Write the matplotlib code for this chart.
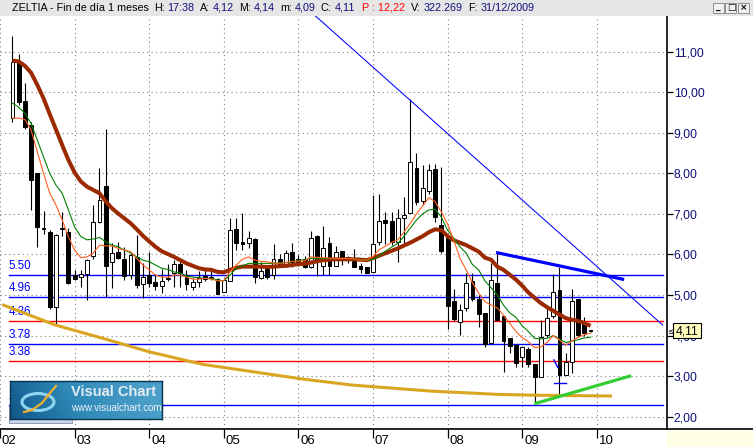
import numpy as np
import matplotlib
matplotlib.use("Agg")
import matplotlib.pyplot as plt
from matplotlib.patches import Rectangle, Ellipse
from matplotlib.transforms import Affine2D
from matplotlib.colors import LinearSegmentedColormap

plt.rcParams['font.family'] = ['Liberation Sans', 'DejaVu Sans']

# monthly candles, Mar 2002 (month 2) .. Dec 2009 (month 95)
months = np.arange(2, 96)

opens = [9.36, 10.74, 9.78, 9.19, 8.00, 6.66, 6.56, 4.71, 6.63, 6.56,
         5.49, 5.45, 5.51, 5.96, 6.81, 7.68, 5.81, 6.07, 5.88, 5.49, 5.94, 5.26,
         5.49, 5.31, 5.23, 5.43, 5.54, 5.76, 5.49, 5.20, 5.33, 5.47, 5.44, 5.39,
         5.08, 5.35, 6.62, 6.31, 6.27, 6.37, 5.43, 5.65, 5.49, 5.88, 5.74, 6.05,
         5.88, 5.88, 5.70, 6.46, 5.72, 6.27, 5.72, 6.08, 5.94, 5.84, 5.72, 5.70,
         5.57, 6.31, 6.85, 6.83, 6.31, 6.89, 7.03, 8.12, 7.33, 7.57, 8.10, 6.73,
         6.40, 4.85, 4.33, 4.67, 5.35, 4.90, 4.55, 3.81, 5.30, 4.48, 3.93, 3.77,
         3.46, 3.67, 3.30, 2.99, 4.01, 4.48, 5.12, 3.03, 3.36, 4.90, 4.30, 4.12]
highs = [11.39, 10.94, 10.22, 9.26, 8.00, 7.06, 6.60, 6.50, 7.05, 6.64,
         5.62, 5.62, 5.90, 7.22, 8.12, 9.09, 6.27, 6.31, 6.19, 6.07, 6.48, 5.78,
         6.07, 5.53, 5.63, 5.76, 5.86, 5.86, 5.61, 5.41, 5.59, 5.63, 5.59, 5.41,
         5.41, 6.89, 6.89, 7.03, 6.58, 6.40, 5.82, 5.72, 6.25, 6.00, 6.11, 6.27,
         5.98, 5.95, 6.58, 6.48, 6.70, 6.43, 6.20, 6.08, 5.97, 6.13, 5.80, 5.70,
         7.47, 7.48, 7.05, 7.05, 7.11, 7.42, 9.83, 8.49, 8.20, 8.23, 8.23, 8.16,
         6.45, 5.14, 4.77, 5.55, 5.55, 5.00, 4.55, 5.78, 6.04, 4.48, 3.93, 3.80,
         3.75, 3.72, 3.30, 4.38, 4.71, 5.53, 5.68, 3.56, 5.14, 4.90, 4.45, 4.14]
lows = [9.27, 9.68, 9.09, 7.10, 6.19, 6.50, 4.66, 4.26, 6.45, 5.27,
        5.37, 5.20, 4.88, 5.88, 6.78, 4.96, 5.17, 5.88, 5.37, 5.39, 5.17, 4.92,
        5.20, 5.13, 5.04, 5.35, 5.20, 5.20, 5.12, 5.12, 5.20, 5.35, 5.37, 5.02,
        5.08, 5.35, 6.11, 6.11, 6.16, 5.29, 5.40, 5.40, 5.40, 5.72, 5.70, 5.70,
        5.72, 5.67, 5.67, 5.47, 5.49, 5.49, 5.72, 5.74, 5.80, 5.70, 5.55, 5.55,
        5.57, 6.23, 6.25, 6.23, 5.82, 6.27, 7.03, 7.22, 7.22, 7.50, 6.81, 6.03,
        4.15, 4.36, 4.01, 4.60, 4.85, 4.20, 3.71, 3.81, 4.38, 3.11, 3.56, 3.23,
        3.23, 3.23, 2.33, 2.99, 3.97, 4.43, 2.51, 3.03, 3.07, 3.97, 4.00, 4.09]
closes = [10.75, 9.77, 9.13, 7.84, 6.68, 6.62, 4.71, 6.48, 6.66, 5.29,
          5.39, 5.51, 5.86, 6.81, 7.34, 5.72, 6.04, 5.92, 5.47, 5.98, 5.25, 5.45,
          5.29, 5.23, 5.35, 5.39, 5.76, 5.54, 5.26, 5.31, 5.41, 5.39, 5.42, 5.02,
          5.37, 6.60, 6.29, 6.25, 6.40, 5.45, 5.58, 5.45, 5.90, 5.74, 6.03, 5.82,
          5.78, 5.70, 6.40, 5.85, 6.15, 5.72, 6.07, 5.94, 5.86, 5.70, 5.63, 5.55,
          6.25, 6.83, 6.77, 6.31, 6.89, 6.97, 8.27, 7.30, 7.63, 8.08, 6.92, 6.09,
          4.74, 4.41, 4.63, 5.30, 4.89, 4.52, 3.79, 5.37, 4.38, 3.87, 3.74, 3.33,
          3.71, 3.30, 2.99, 3.97, 4.43, 5.07, 3.03, 3.34, 4.85, 4.01, 4.07, 4.11]

# moving averages
ma_brown = [10.78, 10.76, 10.65, 10.48, 10.18, 9.85, 9.46, 9.08, 8.70, 8.33,
            8.02, 7.80, 7.67, 7.59, 7.51, 7.31, 7.14, 7.01, 6.89, 6.77, 6.62, 6.46,
            6.32, 6.19, 6.08, 6.01, 5.94, 5.86, 5.78, 5.72, 5.66, 5.63, 5.62, 5.57,
            5.56, 5.62, 5.67, 5.70, 5.70, 5.70, 5.70, 5.69, 5.70, 5.71, 5.72, 5.74,
            5.76, 5.77, 5.80, 5.83, 5.86, 5.87, 5.88, 5.88, 5.88, 5.88, 5.87, 5.86,
            5.91, 5.97, 6.03, 6.09, 6.15, 6.22, 6.29, 6.37, 6.45, 6.55, 6.62, 6.60,
            6.45, 6.35, 6.29, 6.23, 6.15, 6.07, 5.92, 5.87, 5.70, 5.62, 5.50, 5.38,
            5.23, 5.06, 4.93, 4.80, 4.70, 4.61, 4.52, 4.43, 4.39, 4.36, 4.31, 4.24]
ma_green = [9.73, 9.63, 9.48, 9.23, 8.82, 8.41, 8.00, 7.71, 7.51, 7.10,
            6.68, 6.44, 6.36, 6.38, 6.42, 6.31, 6.23, 6.19, 6.11, 6.04, 5.94, 5.86,
            5.82, 5.74, 5.66, 5.63, 5.57, 5.54, 5.47, 5.44, 5.43, 5.41, 5.41, 5.37,
            5.35, 5.49, 5.66, 5.72, 5.78, 5.78, 5.78, 5.78, 5.78, 5.79, 5.80, 5.82,
            5.85, 5.87, 5.90, 5.90, 5.90, 5.90, 5.90, 5.90, 5.90, 5.89, 5.87, 5.86,
            5.88, 5.96, 6.08, 6.18, 6.27, 6.45, 6.65, 6.85, 7.00, 7.10, 7.11, 6.92,
            6.60, 6.40, 6.19, 6.03, 5.75, 5.62, 5.35, 5.18, 5.00, 4.75, 4.56, 4.45,
            4.24, 4.10, 3.93, 3.92, 3.93, 4.00, 3.91, 3.83, 3.86, 3.90, 3.94, 3.96]
ma_orange = [9.36, 9.36, 9.33, 9.07, 8.53, 8.00, 7.51, 7.22, 6.85, 6.44,
             6.11, 5.92, 5.94, 6.03, 6.23, 6.21, 6.21, 6.15, 6.11, 6.07, 5.90, 5.74,
             5.62, 5.49, 5.44, 5.44, 5.49, 5.49, 5.44, 5.39, 5.39, 5.41, 5.39, 5.35,
             5.35, 5.57, 5.74, 5.88, 5.94, 5.86, 5.83, 5.82, 5.79, 5.78, 5.80, 5.83,
             5.84, 5.84, 5.94, 5.93, 5.92, 5.91, 5.90, 5.90, 5.90, 5.89, 5.86, 5.86,
             5.95, 6.12, 6.20, 6.30, 6.36, 6.55, 6.77, 7.00, 7.20, 7.40, 7.30, 7.05,
             6.75, 6.35, 5.90, 5.62, 5.30, 5.05, 4.84, 4.75, 4.68, 4.50, 4.30, 4.10,
             3.95, 3.85, 3.70, 3.72, 3.83, 4.00, 3.89, 3.76, 3.87, 3.96, 4.02, 4.06]

# horizontal levels drawn on the chart
level_values = [5.50, 4.96, 4.36, 3.78, 3.38, 2.28]
level_colors = ['#0000ff', '#0000ff', '#ff0000', '#0000ff', '#ff0000', '#0000ff']

# drawn trend lines (month, price)
diag_x, diag_y = [50.6, 106.6], [11.90, 4.26]
resist_x, resist_y = [80.05, 100.15], [6.04, 5.39]
support_x, support_y = [86.2, 101.3], [2.33, 3.00]
gold_x = [0.58, 8.9, 16.6, 24.0, 32.6, 40.6, 48.6, 56.6, 69.4, 80.1, 85.9, 98.2]
gold_y = [4.75, 4.26, 3.93, 3.60, 3.29, 3.11, 2.93, 2.78, 2.63, 2.55, 2.53, 2.51]

year_months = [0, 12, 24, 36, 48, 60, 72, 84, 96]
year_labels = ['02', '03', '04', '05', '06', '07', '08', '09', '10']
price_ticks = [2, 3, 4, 5, 6, 7, 8, 9, 10, 11]

W, H = 753, 447
fig = plt.figure(figsize=(W / 100, H / 100), dpi=100)
fig.patch.set_facecolor('white')
px = Affine2D().scale(1 / W, -1 / H).translate(0, 1) + fig.transFigure

ax = fig.add_axes([0, 1 - 429.3 / H, 666.7 / W, (429.3 - 16) / H])
ax.set_xlim(0.576, 107.25)
ax.set_ylim(1.689, 11.879)
for s in ['left', 'top']:
    ax.spines[s].set_visible(False)
ax.spines['right'].set_linewidth(1.2)
ax.spines['bottom'].set_linewidth(1.2)

ax.set_xticks(year_months)
ax.set_xticklabels([])
ax.tick_params(axis='x', direction='out', length=6.5, width=0.9, color='black')
for m, lab in zip(year_months, year_labels):
    ax.annotate(lab, xy=(m, 0), xycoords=('data', 'axes fraction'),
                xytext=(2, -12), textcoords='offset pixels',
                fontsize=9.5, color='black', ha='left', va='center',
                annotation_clip=False)

ax.yaxis.tick_right()
ax.set_yticks(price_ticks)
ax.set_yticklabels(['%d,00' % p for p in price_ticks])
ax.tick_params(axis='y', direction='out', length=4, width=0.9, pad=1,
               labelsize=8.7, labelcolor='#10107a', color='black')

ax.grid(True, color='#808080', linestyle=(0, (1, 3)), linewidth=0.8, zorder=0)
ax.set_axisbelow(True)

# levels + their labels
for v, c in zip(level_values, level_colors):
    ax.plot([1.38, 106.6], [v, v], color=c, lw=1.0, zorder=1)
    ax.annotate('%.2f' % v, xy=(1.4, v), xycoords='data', xytext=(0, 3),
                textcoords='offset pixels', fontsize=8.3, color='#0000ff',
                ha='left', va='bottom', zorder=1)

# candles
o = np.array(opens)
c = np.array(closes)
up = c >= o
ax.vlines(months, lows, highs, color='black', lw=0.8, zorder=3)
body_h = np.maximum(np.abs(c - o), 0.015)
ax.bar(months, body_h, bottom=np.minimum(o, c), width=0.62,
       color=np.where(up, 'white', 'black'), edgecolor='black', lw=0.7, zorder=4)

# moving averages
ax.plot(months, ma_brown, color='#9c2a00', lw=2.9, zorder=5, solid_capstyle='butt')
ax.plot(months, ma_green, color='#008000', lw=0.8, zorder=6)
ax.plot(months, ma_orange, color='#ff6020', lw=0.8, zorder=6)

# drawn objects
ax.plot(gold_x, gold_y, color='#daa520', lw=2.2, zorder=7)
ax.plot(diag_x, diag_y, color='#0000ff', lw=0.75, zorder=7)
ax.plot(resist_x, resist_y, color='#0000ff', lw=2.3, zorder=7)
ax.plot(support_x, support_y, color='#33cc33', lw=2.3, zorder=7)
ax.plot([89.1, 91.0], [2.82, 2.82], color='#0000ff', lw=1.0, zorder=7)
ax.plot([89.1, 89.75], [3.40, 3.21], color='#0000ff', lw=1.0, zorder=7)

# header bar
fig.patches.append(Rectangle((0, 0), W, 15.5, transform=px, facecolor='#e6e6e6',
                             edgecolor='none', zorder=0))
navy = '#10107a'
header = [('ZELTIA - Fin de día 1 meses', 'black', 5), ('H:', 'black', 3),
          ('17:38', navy, 5), ('A:', 'black', 3), ('4,12', navy, 5),
          ('M:', 'black', 3), ('4,14', navy, 5), ('m:', 'black', 3),
          ('4,09', navy, 5), ('C:', 'black', 3), ('4,11', navy, 7),
          ('P : 12,22', '#ff0000', 6), ('V:', 'black', 3), ('322.269', navy, 5),
          ('F:', 'black', 3), ('31/12/2009', navy, 0)]
renderer = fig.canvas.get_renderer()


def layout_header(size):
    items = []
    x = 12
    for t, col, gap in header:
        txt = fig.text(x, 8, t, transform=px, fontsize=size, color=col,
                       va='center', ha='left')
        wpx = txt.get_window_extent(renderer).width
        items.append(txt)
        x += wpx + gap
    return items, x


items, end = layout_header(8)
if end > 528:
    for t in items:
        t.remove()
    items, end = layout_header(8 * (528 - 12) / (end - 12))

for bx, g in [(713, '_'), (725.5, '\u25A1'), (738, '\u00D7')]:
    fig.patches.append(Rectangle((bx, 2.5), 11, 10, transform=px, facecolor='#f0f0f0',
                                 edgecolor='#808080', lw=0.6))
    fig.text(bx + 5.5, 7.5, g, transform=px, fontsize=6.5, ha='center', va='center',
             family='DejaVu Sans', fontweight='bold')

# bottom line through axis area and light strip
fig.lines.append(plt.Line2D([666.7, W], [429.3, 429.3], transform=px, color='black', lw=1.2))
fig.patches.append(Rectangle((667.5, 431), W - 667.5, H - 431, transform=px,
                             facecolor='#ffffe6', edgecolor='none'))

# last price marker
fig.patches.append(Rectangle((673, 323.3), 28, 15, transform=px, facecolor='#ffffc0',
                             edgecolor='black', lw=0.8, zorder=10))
fig.text(687, 331, '4,11', transform=px, fontsize=8.7, ha='center', va='center',
         color='black', zorder=11)
fig.text(670, 331, '\u2264', transform=px, fontsize=5.5, ha='center', va='center',
         family='DejaVu Sans', zorder=11)

# Visual Chart logo
fig.patches.append(Rectangle((9, 406), 63, 17, transform=px, facecolor='#cad6ee',
                             edgecolor='#8090a8', lw=0.6, zorder=8))
lax = fig.add_axes([10 / W, 1 - 418.5 / H, 152 / W, 37.5 / H])
lax.set_zorder(20)
grad = np.linspace(0, 1, 200)[None, :] * np.ones((40, 1))
vert = np.linspace(0.15, 0, 40)[:, None]
cmap = LinearSegmentedColormap.from_list('vc', ['#0f5688', '#2f8ab8', '#4a9fc8'])
lax.imshow(np.clip(grad + vert, 0, 1), cmap=cmap, aspect='auto', extent=(0, 152, 37.5, 0))
lax.set_xlim(0, 152)
lax.set_ylim(37.5, 0)
lax.set_xticks([])
lax.set_yticks([])
for s in lax.spines.values():
    s.set_color('#0a3350')
    s.set_linewidth(1)
lax.add_patch(Ellipse((28, 21), 32, 17, fill=False, edgecolor='#8fd4f2', lw=2.2))
lax.plot([14, 22, 32, 40, 46], [31, 29, 22, 12, 5], color='#f0b030', lw=1.6)
lax.text(61, 11, 'Visual Chart', fontsize=10.5, color='#e4ecf4', fontweight='bold',
         ha='left', va='center')
lax.text(61, 27, 'www.visualchart.com', fontsize=7, color='#eef2f8',
         ha='left', va='center')

fig.savefig('out.png', dpi=100)
